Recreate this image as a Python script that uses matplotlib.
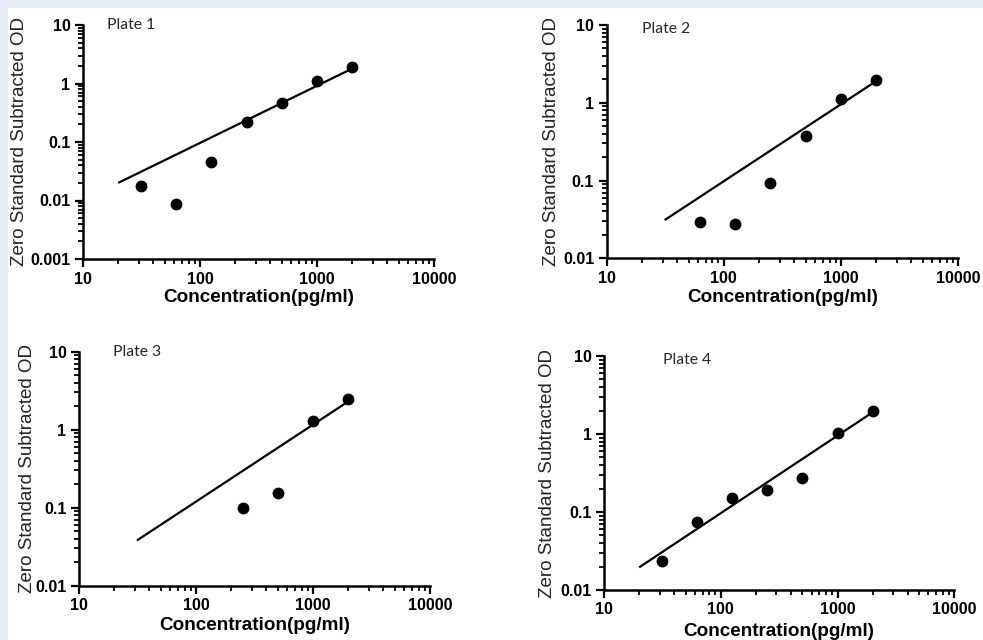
import matplotlib
matplotlib.use("Agg")
import matplotlib.pyplot as plt
from matplotlib.patches import Rectangle
from matplotlib.ticker import LogLocator, FuncFormatter, NullFormatter

# standard concentrations (pg/ml)
conc = [31.25, 62.5, 125, 250, 500, 1000, 2000]

plate1_x = conc
plate1_od = [0.0175, 0.0088, 0.046, 0.217, 0.458, 1.09, 1.89]
plate2_x = conc[1:]
plate2_od = [0.029, 0.028, 0.092, 0.378, 1.13, 1.97]
plate3_x = conc[3:]
plate3_od = [0.10, 0.153, 1.30, 2.5]
plate4_x = conc
plate4_od = [0.0236, 0.074, 0.153, 0.191, 0.273, 1.02, 1.97]

# fitted curves (start / end)
fit1_x, fit1_y = [20, 2000], [0.020, 1.80]
fit2_x, fit2_y = [31.25, 2000], [0.031, 1.90]
fit3_x, fit3_y = [31.25, 2000], [0.038, 2.30]
fit4_x, fit4_y = [20, 2000], [0.0195, 1.90]

titles = ["Plate 1", "Plate 2", "Plate 3", "Plate 4"]
ylims = [(0.001, 10), (0.01, 10), (0.01, 10), (0.01, 10)]

W, H = 983, 640
fig = plt.figure(figsize=(W / 100, H / 100), dpi=100)
fig.patch.set_facecolor("white")

# light blue frame strips (top and left)
bg = "#e6eaf6"
fig.add_artist(Rectangle((0, 1 - 8 / H), 1, 8 / H, transform=fig.transFigure,
                         facecolor=bg, edgecolor="none", zorder=-10))
fig.add_artist(Rectangle((0, 0), 8 / W, 1, transform=fig.transFigure,
                         facecolor=bg, edgecolor="none", zorder=-10))

# axes boxes in pixels: left, right, top, bottom
boxes = [(83, 434, 25, 259), (606.7, 958, 25, 258.3),
         (79, 430, 351.7, 585.7), (604, 954.3, 356, 590)]
title_pos = [(0.068, 1.0), (0.10, 0.983), (0.097, 1.0), (0.168, 0.983)]
ylabel_x = [20, 551.7, 28, 548]
xlabel_y = [297.5, 297.5, 625, 631]

data = [(plate1_x, plate1_od, fit1_x, fit1_y),
        (plate2_x, plate2_od, fit2_x, fit2_y),
        (plate3_x, plate3_od, fit3_x, fit3_y),
        (plate4_x, plate4_od, fit4_x, fit4_y)]

fmt = FuncFormatter(lambda v, p: "%g" % v)

for i, (l, r, t, b) in enumerate(boxes):
    ax = fig.add_axes([l / W, 1 - b / H, (r - l) / W, (b - t) / H])
    xs, ys, fx, fy = data[i]
    ax.plot(fx, fy, color="black", lw=1.6, solid_capstyle="butt", zorder=2)
    ax.plot(xs, ys, "o", color="black", ms=7.5, zorder=3, clip_on=False)

    ax.set_xscale("log")
    ax.set_yscale("log")
    ax.set_xlim(10, 10000)
    ax.set_ylim(*ylims[i])
    ax.xaxis.set_major_locator(LogLocator(base=10, numticks=10))
    ax.xaxis.set_minor_locator(LogLocator(base=10, subs=range(2, 10), numticks=20))
    ax.yaxis.set_major_locator(LogLocator(base=10, numticks=10))
    ax.yaxis.set_minor_locator(LogLocator(base=10, subs=range(2, 10), numticks=20))
    ax.xaxis.set_major_formatter(fmt)
    ax.yaxis.set_major_formatter(fmt)
    ax.xaxis.set_minor_formatter(NullFormatter())
    ax.yaxis.set_minor_formatter(NullFormatter())

    for s in ["top", "right"]:
        ax.spines[s].set_visible(False)
    for s in ["left", "bottom"]:
        ax.spines[s].set_linewidth(1.8)
    ax.tick_params(which="major", direction="out", length=6, width=1.6,
                   labelsize=11.5, pad=3)
    ax.tick_params(which="minor", direction="out", length=3.5, width=1.3)
    for lab in ax.get_xticklabels() + ax.get_yticklabels():
        lab.set_fontweight("bold")
        lab.set_family("Liberation Sans")

    ax.text(title_pos[i][0], title_pos[i][1], titles[i], transform=ax.transAxes,
            ha="left", va="center", fontsize=11.3, family="Lato", color="#262626")

    fig.text(ylabel_x[i] / W, 1 - ((t + b) / 2) / H, "Zero Standard Subtracted OD",
             rotation=90, ha="center", va="center", fontsize=13.5,
             family="Liberation Sans", color="#222222")
    fig.text(((l + r) / 2) / W, 1 - xlabel_y[i] / H, "Concentration(pg/ml)",
             ha="center", va="center", fontsize=13.6, fontweight="bold",
             family="Liberation Sans", color="black")

fig.savefig("out.png", dpi=100)
